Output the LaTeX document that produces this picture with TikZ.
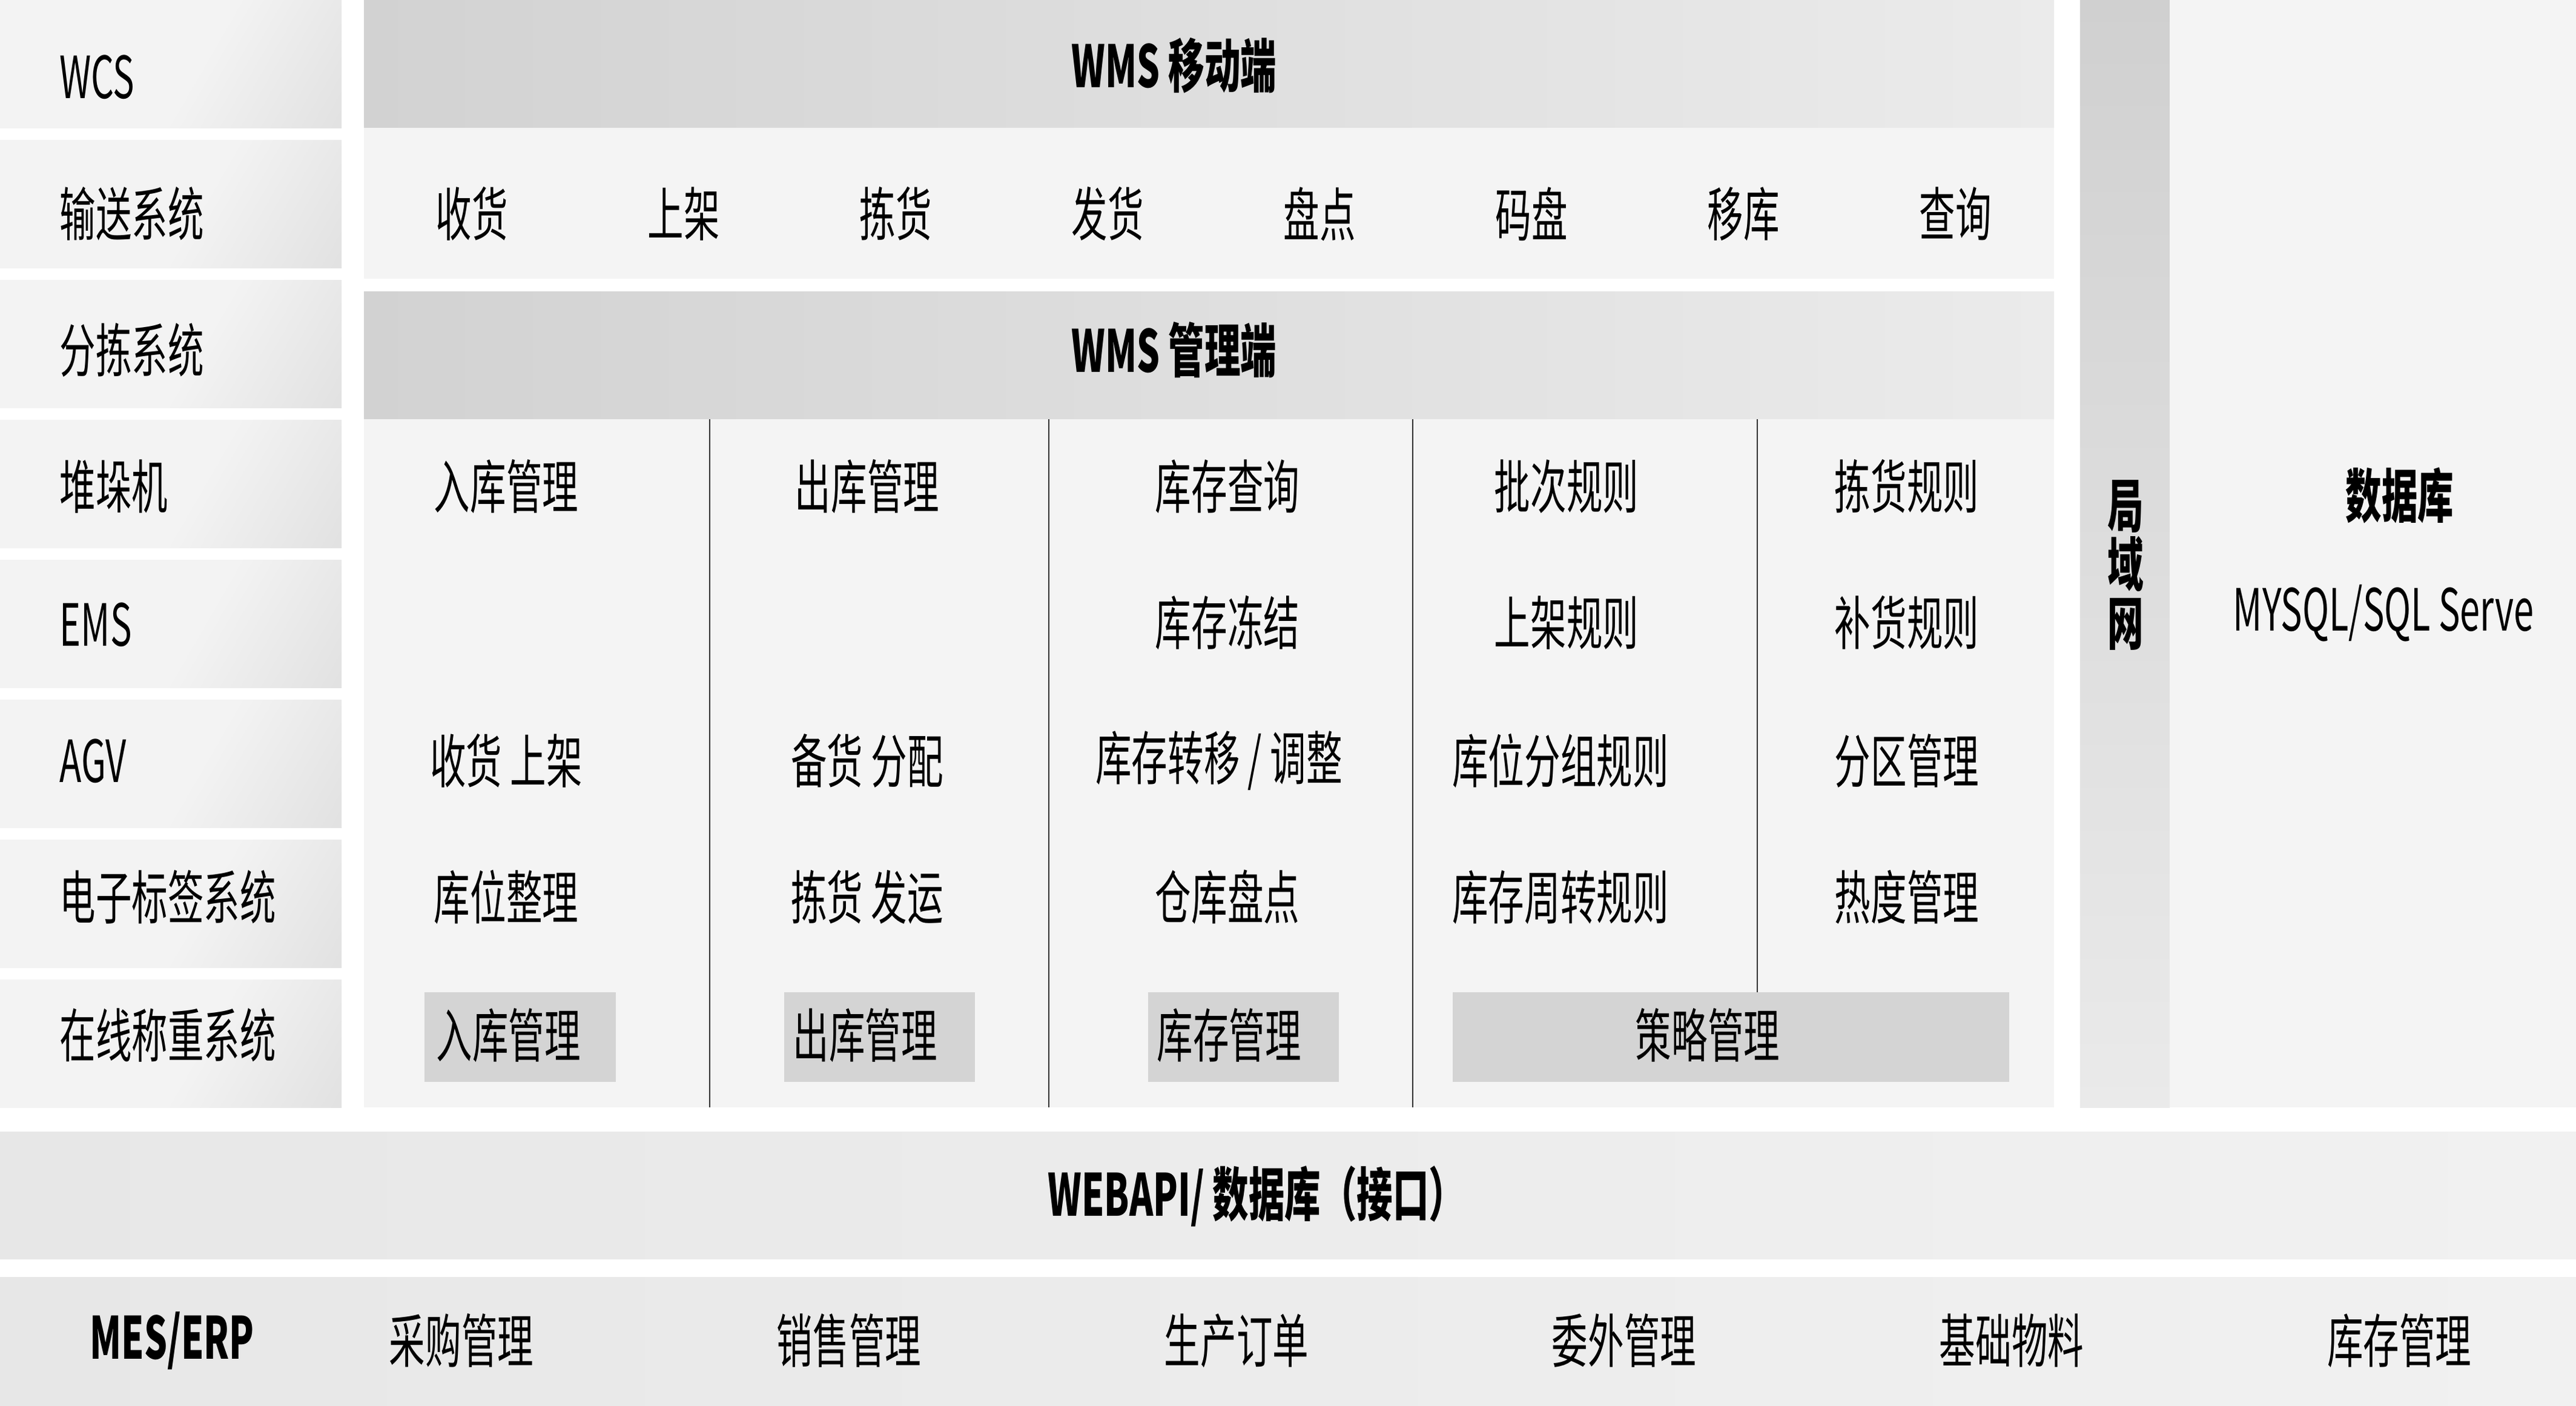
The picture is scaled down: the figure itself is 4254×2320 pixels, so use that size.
\documentclass[tikz,border=0pt]{standalone}
\usepackage{fontspec}
\setmainfont{Noto Sans CJK SC}[FakeStretch=0.62]
\usetikzlibrary{positioning}

\definecolor{sheenlight}{HTML}{F3F3F3}
\definecolor{sheendark}{HTML}{D8D8D8}
\definecolor{bardark}{HTML}{D2D2D2}
\definecolor{barlight}{HTML}{EBEBEB}
\definecolor{panelgray}{HTML}{F4F4F4}
\definecolor{subgray}{HTML}{D4D4D4}
\definecolor{lantop}{HTML}{D0D0D0}
\definecolor{lanbottom}{HTML}{EAEAEA}
\definecolor{apileft}{HTML}{E7E7E7}
\definecolor{apiright}{HTML}{F1F1F1}
\definecolor{divider}{HTML}{333333}

\pgfdeclarehorizontalshading{leftsheen}{100bp}{color(0bp)=(sheenlight); color(55bp)=(sheenlight); color(100bp)=(sheendark)}

\tikzset{
  lbl/.style={inner sep=0pt, font=\fontsize{27.3pt}{30pt}\selectfont},
  boldlbl/.style={lbl, font=\fontsize{27.3pt}{27.6pt}\selectfont\bfseries},
  sysbox/.style={shading=leftsheen, shading angle=-30},
  topbar/.style={left color=bardark, right color=barlight},
  apibar/.style={left color=apileft, right color=apiright},
  colline/.style={draw=divider, line width=0.6pt}
}

\begin{document}
\begin{tikzpicture}[x=0.01cm, y=-0.01cm]
  \useasboundingbox (0,0) rectangle (4254,2320);
  \fill[white] (0,0) rectangle (4254,2320);

  % left column: connected systems
  \foreach \i/\name/\ty in {0/WCS/127, 1/输送系统/353, 2/分拣系统/578, 3/堆垛机/803,
      4/EMS/1031, 5/AGV/1256, 6/电子标签系统/1481, 7/在线称重系统/1709} {
    \shade[sysbox] (0,{231*\i}) rectangle (564,{231*\i+211});
    \node[lbl, anchor=west] (sys\i) at (98,\ty) {\name};
  }

  % WMS mobile side
  \shade[topbar] (601,0) rectangle (3392,211);
  \node[boldlbl] (mobile) at (1939,108) {WMS 移动端};
  \fill[panelgray] (601,211) rectangle (3392,460);
  \foreach \i/\name in {0/收货, 1/上架, 2/拣货, 3/发货, 4/盘点, 5/码盘, 6/移库, 7/查询}
    \node[lbl] (mob\i) at ({779+350*\i},353) {\name};

  % WMS management side
  \shade[topbar] (601,481) rectangle (3392,692);
  \node[boldlbl] (manage) at (1939,578) {WMS 管理端};
  \fill[panelgray] (601,692) rectangle (3392,1828);

  \coordinate (d1t) at (1172,692);  \coordinate (d1b) at (1172,1828);
  \coordinate (d2t) at (1732,692);  \coordinate (d2b) at (1732,1828);
  \coordinate (d3t) at (2333,692);  \coordinate (d3b) at (2333,1828);
  \coordinate (d4t) at (2902,692);  \coordinate (d4b) at (2902,1638);
  \draw[colline] (d1t) -- (d1b);
  \draw[colline] (d2t) -- (d2b);
  \draw[colline] (d3t) -- (d3b);
  \draw[colline] (d4t) -- (d4b);

  \node[lbl] (in1) at (836,803) {入库管理};
  \node[lbl] (in2) at (836,1256) {收货 上架};
  \node[lbl] (in3) at (836,1481) {库位整理};
  \node[lbl] (out1) at (1432,803) {出库管理};
  \node[lbl] (out2) at (1432,1256) {备货 分配};
  \node[lbl] (out3) at (1432,1481) {拣货 发运};
  \node[lbl] (st1) at (2027,803) {库存查询};
  \node[lbl] (st2) at (2027,1028) {库存冻结};
  \node[lbl] (st3) at (2013,1256) {库存转移 / 调整};
  \node[lbl] (st4) at (2027,1481) {仓库盘点};
  \node[lbl] (ru1) at (2587,803) {批次规则};
  \node[lbl] (ru2) at (2587,1028) {上架规则};
  \node[lbl] (ru3) at (2577,1256) {库位分组规则};
  \node[lbl] (ru4) at (2577,1481) {库存周转规则};
  \node[lbl] (pk1) at (3149,803) {拣货规则};
  \node[lbl] (pk2) at (3149,1028) {补货规则};
  \node[lbl] (pk3) at (3149,1256) {分区管理};
  \node[lbl] (pk4) at (3149,1481) {热度管理};

  % module boxes
  \fill[subgray] (701,1638) rectangle (1017,1786);
  \fill[subgray] (1295,1638) rectangle (1610,1786);
  \fill[subgray] (1896,1638) rectangle (2211,1786);
  \fill[subgray] (2399,1638) rectangle (3318,1786);
  \node[lbl, anchor=west] (inmod) at (720,1709) {入库管理};
  \node[lbl, anchor=west] (outmod) at (1309,1709) {出库管理};
  \node[lbl, anchor=west] (stmod) at (1910,1709) {库存管理};
  \node[lbl] (rulemod) at (2820,1709) {策略管理};

  % LAN and database
  \shade[top color=lantop, bottom color=lanbottom] (3435,0) rectangle (3583,1828);
  \node[boldlbl, align=center] (lan) at (3510,933) {局\\域\\网};
  \fill[panelgray] (3583,0) rectangle (4254,1828);
  \node[boldlbl] (db) at (3963,818) {数据库};
  \node[lbl] (dbname) at (3936,1012) {MYSQL/SQL Serve};

  % interface and ERP
  \shade[apibar] (0,1868) rectangle (4254,2078);
  \node[boldlbl] (api) at (2075,1975) {WEBAPI/ 数据库（接口）};
  \shade[apibar] (0,2108) rectangle (4254,2320);
  \node[boldlbl] (erp) at (284,2213) {MES/ERP};
  \foreach \i/\name in {0/采购管理, 1/销售管理, 2/生产订单, 3/委外管理, 4/基础物料, 5/库存管理}
    \node[lbl] (erp\i) at ({762+640*\i},2213) {\name};
\end{tikzpicture}
\end{document}
